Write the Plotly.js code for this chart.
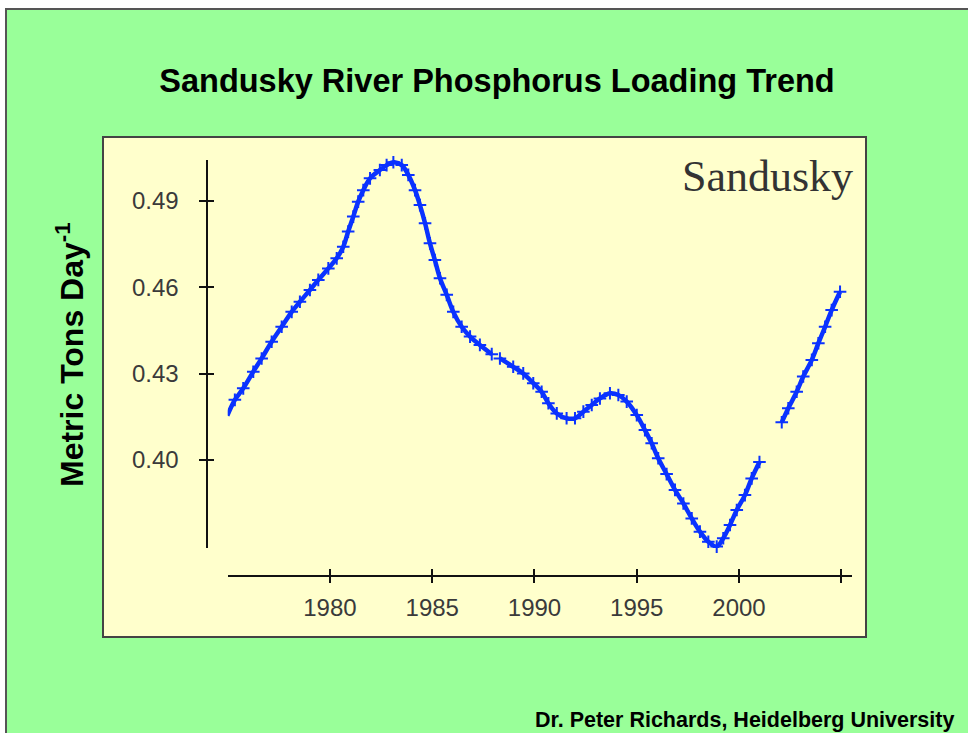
<!DOCTYPE html>
<html>
<head>
<meta charset="utf-8">
<script src="https://cdn.plot.ly/plotly-3.0.1.min.js"></script>
<style>html,body{margin:0;padding:0;background:#fff;}#chart{width:968px;height:733px;}</style>
</head>
<body>
<div id="chart"></div>
<script>
// ---- data ----
const years1 = [1974.98, 1975.35, 1975.76, 1976.25, 1976.66, 1977.15, 1977.64, 1978.13, 1978.53, 1979.02, 1979.43, 1979.92, 1980.33, 1980.65, 1980.89, 1981.14, 1981.38, 1981.63, 1981.96, 1982.44, 1982.77, 1983.10, 1983.51, 1983.83, 1984.16, 1984.40, 1984.65, 1984.89, 1985.13, 1985.38, 1985.71, 1986.03, 1986.44, 1986.85, 1987.33, 1987.91];
const loads1 = [0.4154, 0.4209, 0.4249, 0.4307, 0.4353, 0.4411, 0.4463, 0.4515, 0.4550, 0.4591, 0.4626, 0.4666, 0.4701, 0.4741, 0.4794, 0.4846, 0.4898, 0.4938, 0.4979, 0.5008, 0.5025, 0.5035, 0.5025, 0.4991, 0.4938, 0.4886, 0.4823, 0.4753, 0.4695, 0.4632, 0.4574, 0.4515, 0.4463, 0.4429, 0.4400, 0.4368];
const years2 = [1988.31, 1988.96, 1989.45, 1989.94, 1990.35, 1990.68, 1991.09, 1991.57, 1991.98, 1992.39, 1992.80, 1993.20, 1993.69, 1994.10, 1994.51, 1995.00, 1995.40, 1995.73, 1996.05, 1996.46, 1996.87, 1997.28, 1997.69, 1998.09, 1998.50, 1998.91, 1999.23, 1999.56, 1999.89, 2000.29, 2000.62, 2001.00];
const loads2 = [0.4353, 0.4324, 0.4301, 0.4267, 0.4237, 0.4197, 0.4162, 0.4145, 0.4145, 0.4168, 0.4191, 0.4214, 0.4232, 0.4226, 0.4203, 0.4156, 0.4104, 0.4058, 0.4006, 0.3951, 0.3896, 0.3849, 0.3797, 0.3751, 0.3716, 0.3699, 0.3728, 0.3774, 0.3826, 0.3878, 0.3936, 0.3993];
const years3 = [2002.09, 2002.41, 2002.82, 2003.14, 2003.56, 2003.88, 2004.21, 2004.53, 2004.94];
const loads3 = [0.4131, 0.4180, 0.4237, 0.4290, 0.4348, 0.4406, 0.4463, 0.4521, 0.4585];

const xTickVals = [1980, 1985, 1990, 1995, 2000, 2005];
const xTickText = ['1980', '1985', '1990', '1995', '2000', ' '];
const yTickVals = [0.40, 0.43, 0.46, 0.49];
const yTickText = ['0.40', '0.43', '0.46', '0.49'];

const chartTitle = 'Sandusky River Phosphorus Loading Trend';
const yTitle = 'Metric Tons Day<sup>-1</sup>';
const siteLabel = 'Sandusky';
const credit = 'Dr. Peter Richards, Heidelberg University';

// ---- layout helpers (pixel -> paper fraction, margins are zero) ----
const W = 968, H = 733;
const px = v => v / W;
const py = v => 1 - v / H;

const BLUE = '#0a32ff';
const SANS = 'Liberation Sans, Arial, Helvetica, sans-serif';
const AX = '#111111';

function seg(xs, ys) {
  return {
    type: 'scatter', mode: 'lines+markers', x: xs, y: ys,
    line: {color: BLUE, width: 4.5, shape: 'spline', smoothing: 1},
    marker: {symbol: 'cross-thin', size: 9, color: BLUE, line: {color: BLUE, width: 2}},
    cliponaxis: false, hoverinfo: 'x+y', showlegend: false
  };
}

const traces = [
  seg(years1, loads1),
  seg(years2, loads2),
  seg(years3, loads3),
  {type: 'scatter', x: [null], y: [null], xaxis: 'x2', yaxis: 'y', hoverinfo: 'skip', showlegend: false},
  {type: 'scatter', x: [null], y: [null], xaxis: 'x', yaxis: 'y2', hoverinfo: 'skip', showlegend: false}
];

const xDomain = [px(227.7), px(851.7)];
const xRange = [1975.0, 2005.51];
const xPos = py(575.7);
const yDomain = [py(548), py(160)];
const yRange = [0.36941, 0.50428];
const yPos = px(206.7);

const tickCommon = {ticklen: 6.5, tickwidth: 1.5, tickcolor: AX, showgrid: false, zeroline: false, fixedrange: true};

const layout = {
  width: W, height: H,
  margin: {l: 0, r: 0, t: 0, b: 0, pad: 0},
  paper_bgcolor: '#ffffff',
  plot_bgcolor: 'rgba(0,0,0,0)',
  showlegend: false,
  title: {
    text: chartTitle, x: px(497), y: py(80.5), xref: 'paper', yref: 'paper',
    xanchor: 'center', yanchor: 'middle',
    font: {family: SANS, size: 32.5, weight: 'bold', color: '#000000'}
  },
  xaxis: Object.assign({
    domain: xDomain, range: xRange, anchor: 'free', position: xPos,
    showline: true, linecolor: AX, linewidth: 1.5,
    ticks: 'outside', tickmode: 'array', tickvals: xTickVals, ticktext: xTickText,
    tickfont: {family: SANS, size: 24, color: '#3a3a3a'}, ticklabelstandoff: 4
  }, tickCommon),
  xaxis2: Object.assign({
    overlaying: 'x', domain: xDomain, range: xRange, anchor: 'free', position: xPos,
    showline: false, ticks: 'inside', tickmode: 'array', tickvals: xTickVals, showticklabels: false
  }, tickCommon),
  yaxis: Object.assign({
    domain: yDomain, range: yRange, anchor: 'free', position: yPos,
    showline: true, linecolor: AX, linewidth: 1.5,
    ticks: 'outside', tickmode: 'array', tickvals: yTickVals, ticktext: yTickText,
    tickfont: {family: SANS, size: 24, color: '#3a3a3a'}, ticklabelstandoff: 16
  }, tickCommon),
  yaxis2: Object.assign({
    overlaying: 'y', domain: yDomain, range: yRange, anchor: 'free', position: yPos,
    showline: false, ticks: 'inside', tickmode: 'array', tickvals: yTickVals, showticklabels: false
  }, tickCommon),
  shapes: [
    {type: 'rect', xref: 'paper', yref: 'paper', layer: 'below',
     x0: px(6), x1: px(990), y0: py(9), y1: py(760),
     fillcolor: '#99ff99', line: {color: '#555555', width: 2}},
    {type: 'rect', xref: 'paper', yref: 'paper', layer: 'below',
     x0: px(103), x1: px(866), y0: py(137), y1: py(637),
     fillcolor: '#ffffcc', line: {color: '#444444', width: 2}}
  ],
  annotations: [
    {text: yTitle, xref: 'paper', yref: 'paper', x: px(70), y: py(355),
     xanchor: 'center', yanchor: 'middle', textangle: -90, showarrow: false,
     font: {family: SANS, size: 32, weight: 'bold', color: '#000000'}},
    {text: siteLabel, xref: 'paper', yref: 'paper', x: px(855), y: py(176),
     xanchor: 'right', yanchor: 'middle', showarrow: false,
     font: {family: 'Liberation Serif, Times New Roman, serif', size: 44, color: '#333333'}},
    {text: credit, xref: 'paper', yref: 'paper', x: px(956), y: py(719.5),
     xanchor: 'right', yanchor: 'middle', showarrow: false,
     font: {family: SANS, size: 21.5, weight: 'bold', color: '#000000'}}
  ]
};

Plotly.newPlot('chart', traces, layout, {displayModeBar: false});
</script>
</body>
</html>
